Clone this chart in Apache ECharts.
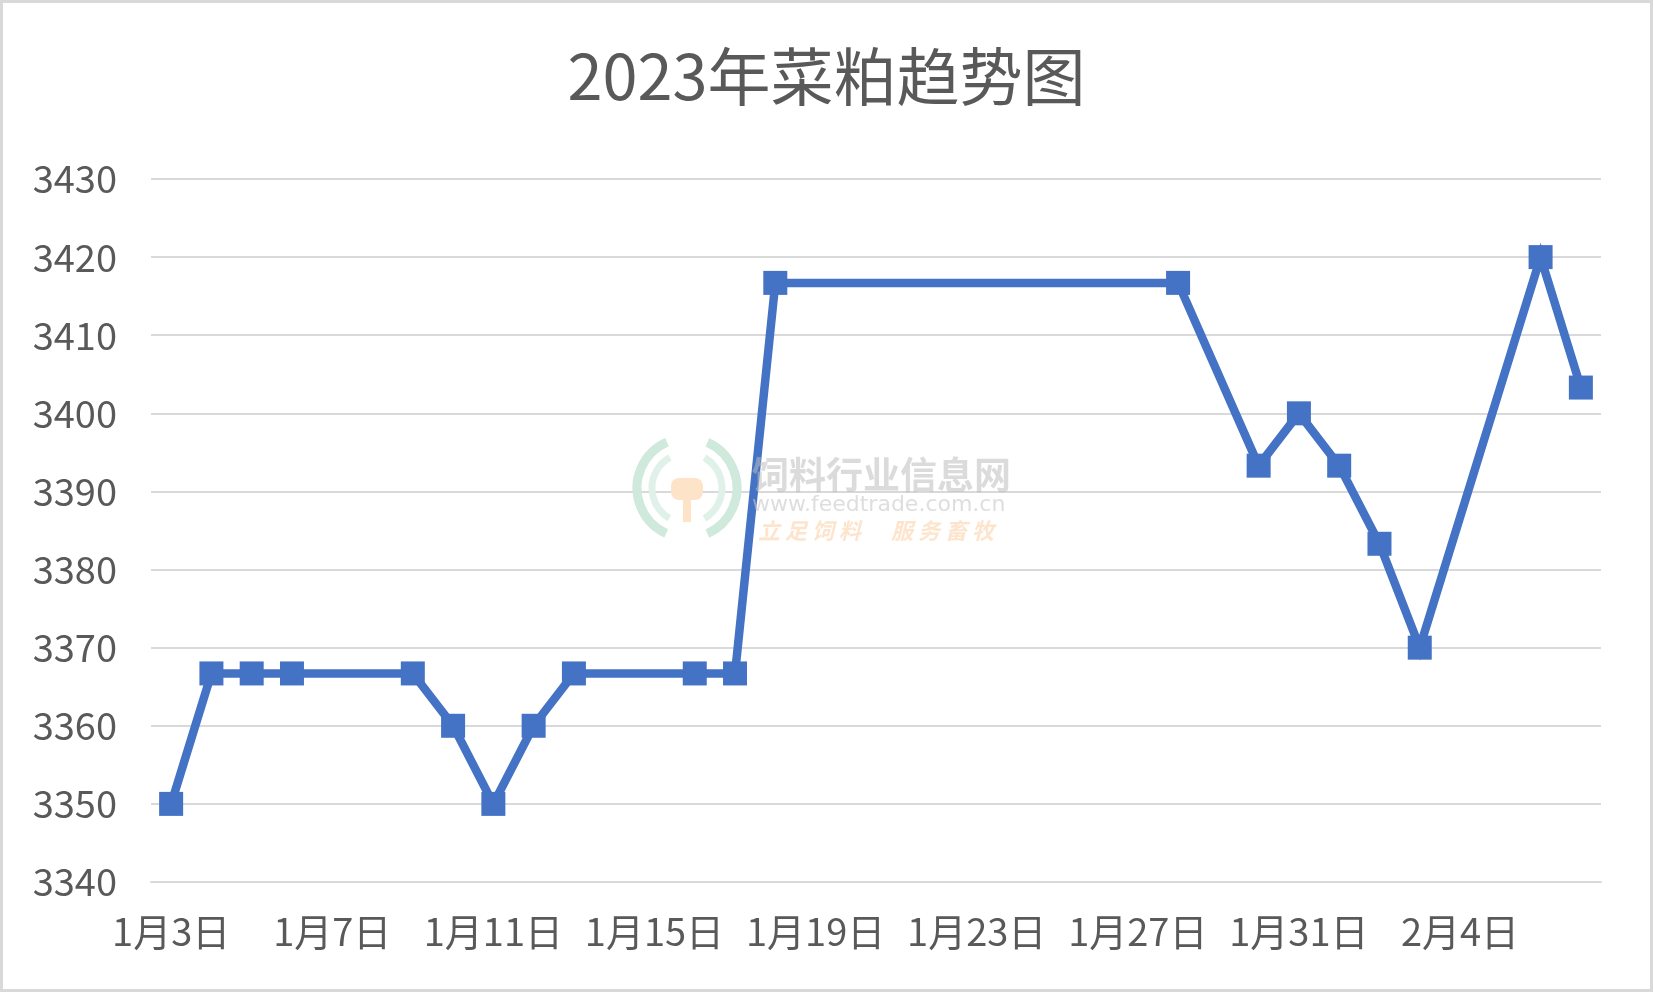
<!DOCTYPE html>
<html>
<head>
<meta charset="utf-8">
<script src="https://cdn.jsdelivr.net/npm/echarts@6/dist/echarts.min.js"></script>
<style>
  html, body { margin: 0; padding: 0; background: #fff; }
  #wrap { width: 1653px; height: 992px; box-sizing: border-box; border: 3px solid #d9d9d9; position: relative; }
  #chart { position: absolute; left: -3px; top: -3px; width: 1653px; height: 992px; }
</style>
</head>
<body>
<div id="wrap"><div id="chart"></div></div>
<script>
const titleText = '2023年菜粕趋势图';
const categories = [
  '1月3日','1月4日','1月5日','1月6日','1月7日','1月8日','1月9日','1月10日','1月11日','1月12日',
  '1月13日','1月14日','1月15日','1月16日','1月17日','1月18日','1月19日','1月20日','1月21日','1月22日',
  '1月23日','1月24日','1月25日','1月26日','1月27日','1月28日','1月29日','1月30日','1月31日',
  '2月1日','2月2日','2月3日','2月4日','2月5日','2月6日','2月7日'
];
const prices = [
  3350, 3366.7, 3366.7, 3366.7, null, null, 3366.7, 3360, 3350, 3360,
  3366.7, null, null, 3366.7, 3366.7, 3416.7, null, null, null, null,
  null, null, null, null, null, 3416.7, null, 3393.3, 3400,
  3393.3, 3383.3, 3370, null, null, 3420, 3403.3
];
const yMin = 3340, yMax = 3430, yStep = 10;

const FONT = '"Noto Sans CJK SC", "Noto Sans", sans-serif';
const chart = echarts.init(document.getElementById('chart'), null, { renderer: 'canvas' });
chart.setOption({
  backgroundColor: 'transparent',
  animation: false,
  title: {
    text: titleText,
    left: 'center',
    top: 40,
    textStyle: { fontFamily: FONT, fontSize: 63, fontWeight: 'normal', color: '#595959' }
  },
  grid: { left: 151, right: 52, top: 179, bottom: 110, containLabel: false },
  xAxis: {
    type: 'category',
    data: categories,
    boundaryGap: true,
    axisLine: { show: true, lineStyle: { color: '#d9d9d9', width: 2 } },
    axisTick: { show: false },
    axisLabel: { interval: 3, margin: 31, fontFamily: FONT, fontSize: 38, color: '#595959' },
    splitLine: { show: false }
  },
  yAxis: {
    type: 'value',
    min: yMin, max: yMax, interval: yStep,
    axisLine: { show: false },
    axisTick: { show: false },
    axisLabel: { margin: 34, fontFamily: FONT, fontSize: 38, color: '#595959', formatter: v => String(v) },
    splitLine: { lineStyle: { color: '#d9d9d9', width: 2 } }
  },
  series: [{
    type: 'line',
    data: prices,
    connectNulls: true,
    symbol: 'rect',
    symbolSize: 24,
    lineStyle: { color: '#4472C4', width: 8.5, join: 'miter' },
    itemStyle: { color: '#4472C4' },
    z: 3
  }],
  graphic: [
    { type: 'arc', shape: { cx: 687, cy: 488, r: 50, startAngle: 2.0, endAngle: 4.3 }, style: { fill: 'none', stroke: '#cfe9dc', lineWidth: 9 }, z: 10, silent: true },
    { type: 'arc', shape: { cx: 687, cy: 488, r: 50, startAngle: -1.15, endAngle: 1.15 }, style: { fill: 'none', stroke: '#cfe9dc', lineWidth: 9 }, z: 10, silent: true },
    { type: 'arc', shape: { cx: 687, cy: 488, r: 35, startAngle: 2.1, endAngle: 4.2 }, style: { fill: 'none', stroke: '#dff1e8', lineWidth: 7 }, z: 10, silent: true },
    { type: 'arc', shape: { cx: 687, cy: 488, r: 35, startAngle: -1.05, endAngle: 1.05 }, style: { fill: 'none', stroke: '#dff1e8', lineWidth: 7 }, z: 10, silent: true },
    { type: 'rect', shape: { x: 671, y: 478, width: 32, height: 22, r: 8 }, style: { fill: '#fde3c8' }, z: 10, silent: true },
    { type: 'rect', shape: { x: 683, y: 496, width: 8, height: 26 }, style: { fill: '#fde3c8' }, z: 10, silent: true },
    { type: 'text', left: 752, top: 456, style: { text: '饲料行业信息网', fontFamily: FONT, fontSize: 37, fontWeight: 'bold', fill: 'rgba(190,190,190,0.55)' }, z: 10, silent: true },
    { type: 'text', left: 752, top: 494, style: { text: 'www.feedtrade.com.cn', fontFamily: '"DejaVu Sans", sans-serif', fontSize: 22, fill: 'rgba(200,200,200,0.6)' }, z: 10, silent: true },
    { type: 'text', left: 758, top: 520, style: { text: '立 足 饲 料      服 务 畜 牧', fontFamily: FONT, fontSize: 22, fontStyle: 'italic', fontWeight: 'bold', fill: 'rgba(252,210,170,0.6)' }, z: 10, silent: true }
  ]
});
</script>
</body>
</html>
